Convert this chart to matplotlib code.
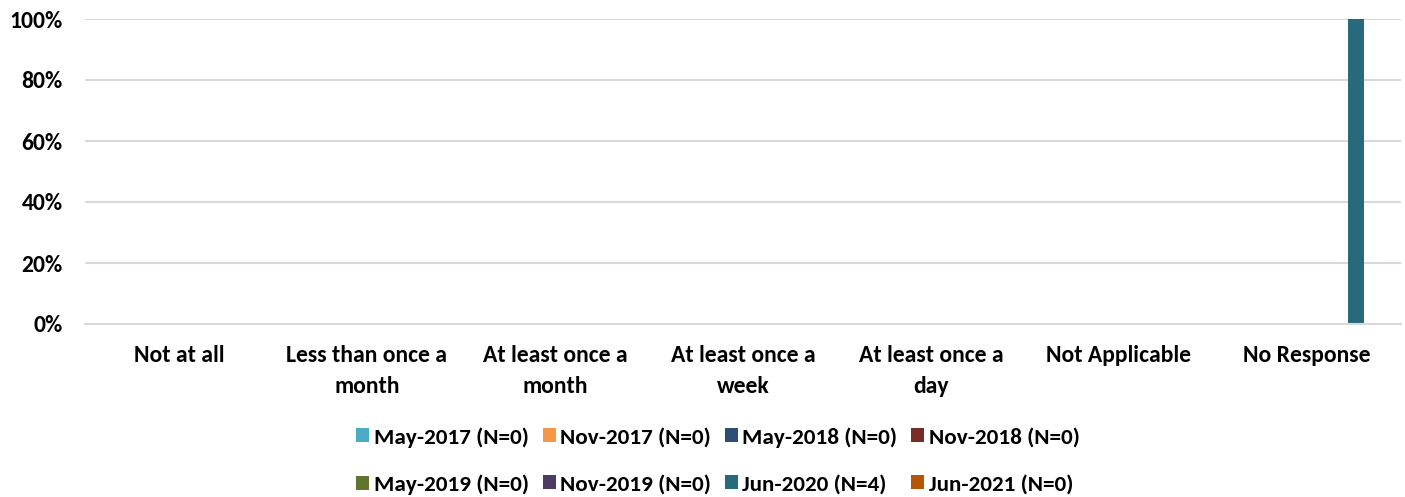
import matplotlib
matplotlib.use("Agg")
import matplotlib.pyplot as plt
import numpy as np
from matplotlib import font_manager as fm

categories = ["Not at all", "Less than once a\nmonth", "At least once a\nmonth",
              "At least once a\nweek", "At least once a\nday", "Not Applicable", "No Response"]
series_names = ["May-2017 (N=0)", "Nov-2017 (N=0)", "May-2018 (N=0)", "Nov-2018 (N=0)",
                "May-2019 (N=0)", "Nov-2019 (N=0)", "Jun-2020 (N=4)", "Jun-2021 (N=0)"]
values = [
    [0, 0, 0, 0, 0, 0, 0],
    [0, 0, 0, 0, 0, 0, 0],
    [0, 0, 0, 0, 0, 0, 0],
    [0, 0, 0, 0, 0, 0, 0],
    [0, 0, 0, 0, 0, 0, 0],
    [0, 0, 0, 0, 0, 0, 0],
    [0, 0, 0, 0, 0, 0, 100],
    [0, 0, 0, 0, 0, 0, 0],
]
colors = ["#4BACC6", "#F79646", "#2C4D75", "#772C2A", "#5F7530", "#4D3B62", "#276A7C", "#B65708"]

bold_path = None
for f in fm.fontManager.ttflist:
    if f.name == 'Carlito' and f.weight == 700 and f.style == 'normal':
        bold_path = f.fname
        break

def fprop(size):
    if bold_path:
        return fm.FontProperties(fname=bold_path, size=size)
    return fm.FontProperties(family=['Lato', 'DejaVu Sans'], weight='bold', size=size)

fp_ax = fprop(17)
fp_leg = fprop(16.7)

fig = plt.figure(figsize=(14.05, 4.97), dpi=100)
ax = fig.add_axes([85/1405, 1 - 324/497, (1401-85)/1405, (324-19)/497])

x = np.arange(len(categories))
slot = 0.105
bw = 0.085
n = len(series_names)
for i, (name, vals, c) in enumerate(zip(series_names, values, colors)):
    ax.bar(x + (i - (n - 1) / 2) * slot, vals, width=bw, color=c, label=name)

ax.set_xlim(-0.5, len(categories) - 0.5)
ax.set_ylim(0, 100)
ax.set_yticks(np.arange(0, 101, 20))
ax.set_yticklabels([f"{v}%" for v in range(0, 101, 20)], fontproperties=fp_ax)
ax.set_xticks(x)
ax.set_xticklabels(categories, fontproperties=fp_ax, linespacing=1.62)
ax.tick_params(axis='y', length=0, pad=16)
ax.tick_params(axis='x', length=0, pad=15)
ax.grid(axis='y', color='#D9D9D9', linewidth=1.5)
ax.set_axisbelow(True)
for s in ['top', 'right', 'left']:
    ax.spines[s].set_visible(False)
ax.spines['bottom'].set_color('#D9D9D9')
ax.spines['bottom'].set_linewidth(1.5)

handles, labels = ax.get_legend_handles_labels()
order = [0, 4, 1, 5, 2, 6, 3, 7]
fig.legend([handles[k] for k in order], [labels[k] for k in order],
           loc='center', bbox_to_anchor=(718/1405, 1 - 461/497), ncol=4, frameon=False,
           prop=fp_leg, handlelength=0.55, handleheight=0.55,
           handletextpad=0.2, columnspacing=0.6, labelspacing=1.15)

fig.savefig("out.png", dpi=100)
